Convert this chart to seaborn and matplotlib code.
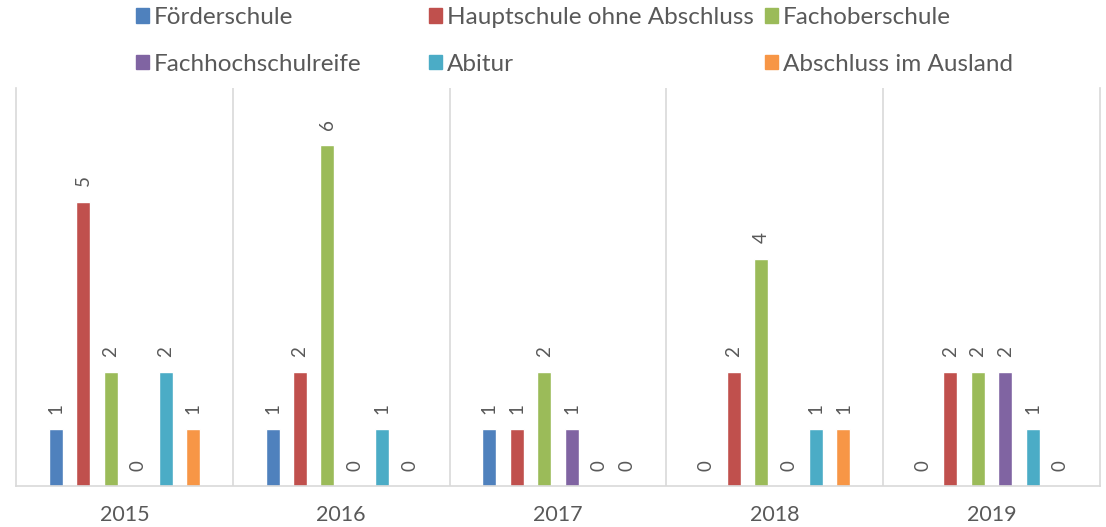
import pandas as pd
import matplotlib.pyplot as plt
import matplotlib.patches as mpatches
import seaborn as sns

# Data
years = ['2015', '2016', '2017', '2018', '2019']
schools = ['Förderschule', 'Hauptschule ohne Abschluss', 'Fachoberschule',
           'Fachhochschulreife', 'Abitur', 'Abschluss im Ausland']
foerderschule = [1, 1, 1, 0, 0]
hauptschule = [5, 2, 1, 2, 2]
fachoberschule = [2, 6, 2, 4, 2]
fachhochschulreife = [0, 0, 1, 0, 2]
abitur = [2, 1, 0, 1, 1]
ausland = [1, 0, 0, 1, 0]
colors = ['#4F81BD', '#C0504D', '#9BBB59', '#8064A2', '#4BACC6', '#F79646']

series = [foerderschule, hauptschule, fachoberschule,
          fachhochschulreife, abitur, ausland]
rows = []
for school, values in zip(schools, series):
    for year, v in zip(years, values):
        rows.append({'Jahr': year, 'Abschluss': school, 'Anzahl': v})
df = pd.DataFrame(rows)

sns.set_theme(style='white')
plt.rcParams['font.family'] = ['Lato', 'DejaVu Sans']
text_color = '#595959'
line_color = '#D9D9D9'

fig = plt.figure(figsize=(11.06, 5.27), dpi=100)
ax = fig.add_axes([16 / 1106, 41 / 527, 1084 / 1106, 398 / 527])

sns.barplot(data=df, x='Jahr', y='Anzahl', hue='Abschluss', hue_order=schools,
            palette=colors, saturation=1, width=0.76, gap=0.49,
            legend=False, ax=ax)

# value labels, rotated like in the original
for container in ax.containers:
    ax.bar_label(container, fmt='{:.0f}', rotation=90, padding=11,
                 color=text_color, fontsize=13.5)

ax.set_xlim(-0.5, len(years) - 0.5)
ax.set_ylim(0, 7)
ax.set_xlabel('')
ax.set_ylabel('')
ax.set_yticks([])
ax.tick_params(axis='x', length=0, pad=14, labelsize=15.5, labelcolor=text_color)

# separators between the year groups
for i in range(len(years) - 1):
    ax.axvline(i + 0.5, color=line_color, linewidth=1.2)
for side in ['left', 'right', 'bottom']:
    ax.spines[side].set_color(line_color)
    ax.spines[side].set_linewidth(1.2)
ax.spines['top'].set_visible(False)

# legend in three columns, placed like the original
handles = [mpatches.Patch(color=c, label=s) for c, s in zip(colors, schools)]
col_x = [136, 429, 765]
for k, x in enumerate(col_x):
    fig.legend(handles=[handles[k], handles[k + 3]], loc='upper left',
               bbox_to_anchor=(x / 1106, 1 - 7 / 527), frameon=False,
               borderpad=0, borderaxespad=0, handlelength=0.55,
               handleheight=0.55, handletextpad=0.18, labelspacing=1.05,
               fontsize=17.5, labelcolor=text_color)

fig.savefig('out.png', dpi=100)
